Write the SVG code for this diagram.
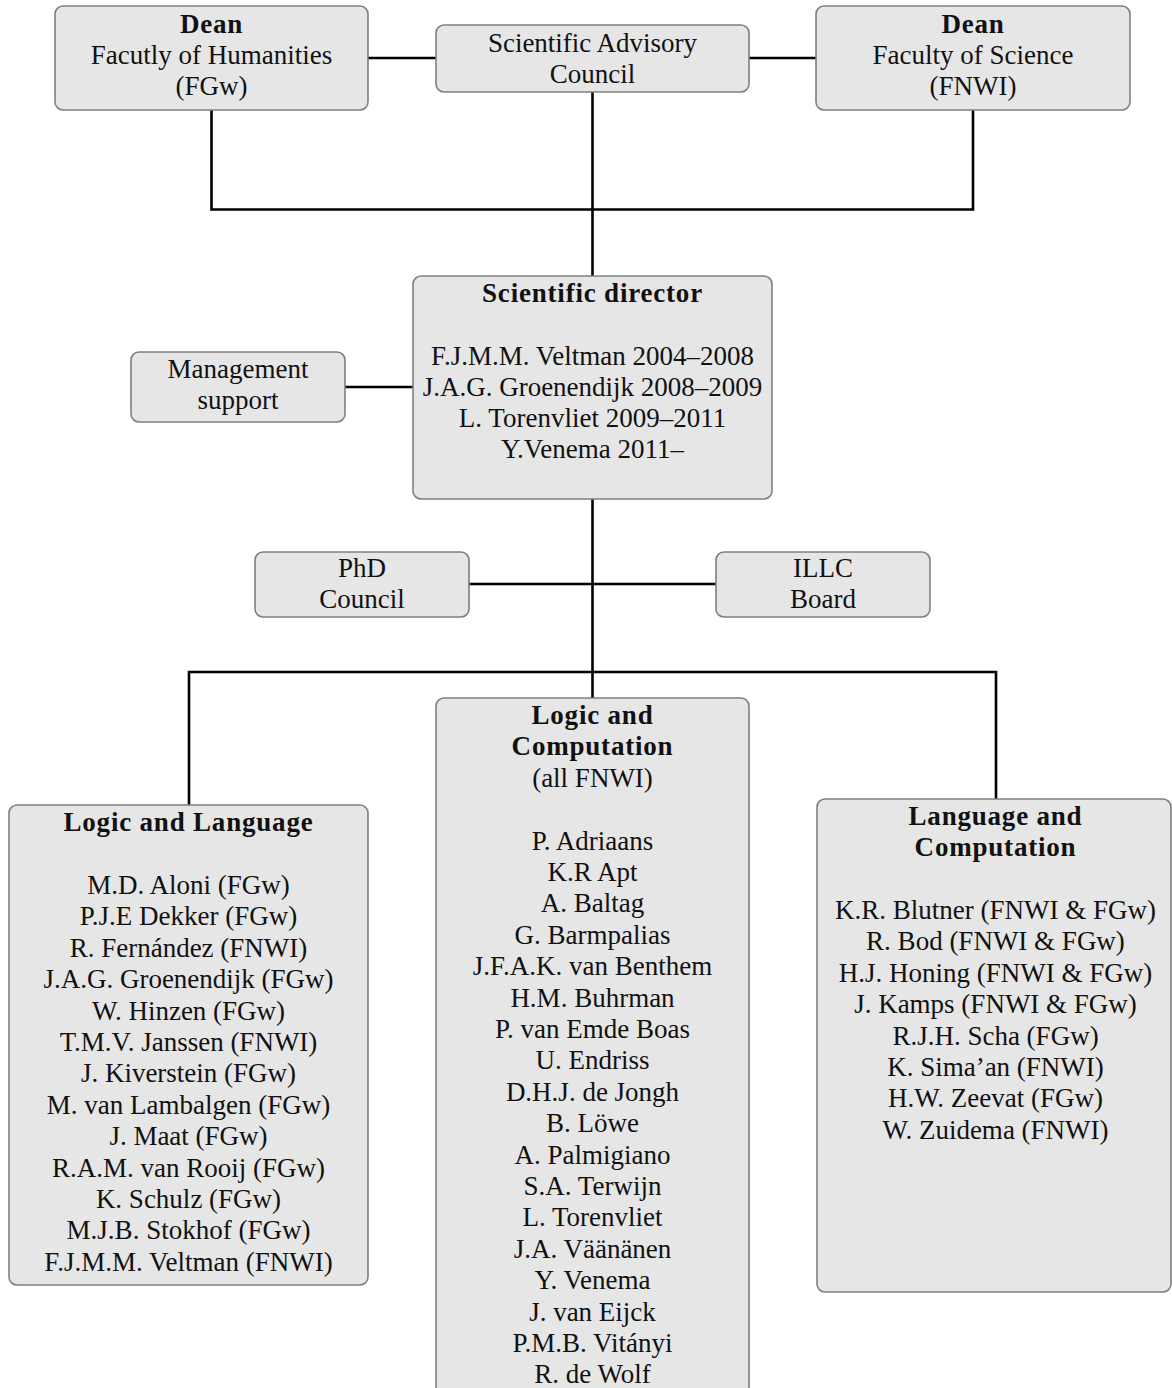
<svg xmlns="http://www.w3.org/2000/svg" width="1172" height="1388" viewBox="0 0 1172 1388">
<style>
.box{fill:#e6e6e6;stroke:#7f7f7f;stroke-width:1.6}
.t{font-family:"Liberation Serif","Times New Roman",serif;font-size:27px;fill:#111;text-anchor:middle}
.b{font-weight:bold;letter-spacing:0.8px}
.c{fill:none;stroke:#000;stroke-width:2.6}
</style>
<rect width="1172" height="1388" fill="#fff"/>
<g id="connectors">
<path class="c" d="M368 58H436M749 58H816"/>
<path class="c" d="M211.5 110V209.5H973V110"/>
<path class="c" d="M592.5 92V276"/>
<path class="c" d="M345 387H413"/>
<path class="c" d="M592.5 499V698"/>
<path class="c" d="M469 584H716"/>
<path class="c" d="M189 805V672H996V799"/>
</g>
<g id="dean-fgw">
<rect class="box" x="55" y="6" width="313" height="104" rx="8"/>
<text class="t b" x="211.5" y="33">Dean</text>
<text class="t" x="211.5" y="64">Facutly of Humanities</text>
<text class="t" x="211.5" y="95">(FGw)</text>
</g>
<g id="advisory-council">
<rect class="box" x="436" y="25" width="313" height="67" rx="8"/>
<text class="t" x="592.5" y="52">Scientific Advisory</text>
<text class="t" x="592.5" y="83">Council</text>
</g>
<g id="dean-fnwi">
<rect class="box" x="816" y="6" width="314" height="104" rx="8"/>
<text class="t b" x="973" y="33">Dean</text>
<text class="t" x="973" y="64">Faculty of Science</text>
<text class="t" x="973" y="95">(FNWI)</text>
</g>
<g id="management-support">
<rect class="box" x="131" y="352" width="214" height="70" rx="8"/>
<text class="t" x="238" y="378">Management</text>
<text class="t" x="238" y="409">support</text>
</g>
<g id="scientific-director">
<rect class="box" x="413" y="276" width="359" height="223" rx="8"/>
<text class="t b" x="592.5" y="302">Scientific director</text>
<text class="t" x="592.5" y="365">F.J.M.M. Veltman 2004–2008</text>
<text class="t" x="592.5" y="396">J.A.G. Groenendijk 2008–2009</text>
<text class="t" x="592.5" y="427">L. Torenvliet 2009–2011</text>
<text class="t" x="592.5" y="458">Y.Venema 2011–</text>
</g>
<g id="phd-council">
<rect class="box" x="255" y="552" width="214" height="65" rx="8"/>
<text class="t" x="362" y="577">PhD</text>
<text class="t" x="362" y="608">Council</text>
</g>
<g id="illc-board">
<rect class="box" x="716" y="552" width="214" height="65" rx="8"/>
<text class="t" x="823" y="577">ILLC</text>
<text class="t" x="823" y="608">Board</text>
</g>
<g id="logic-language">
<rect class="box" x="9" y="805" width="359" height="480" rx="8"/>
<text class="t b" x="188.5" y="831">Logic and Language</text>
<text class="t" x="188.5" y="894">M.D. Aloni (FGw)</text>
<text class="t" x="188.5" y="925.4">P.J.E Dekker (FGw)</text>
<text class="t" x="188.5" y="956.8">R. Fernández (FNWI)</text>
<text class="t" x="188.5" y="988.2">J.A.G. Groenendijk (FGw)</text>
<text class="t" x="188.5" y="1019.6">W. Hinzen (FGw)</text>
<text class="t" x="188.5" y="1051">T.M.V. Janssen (FNWI)</text>
<text class="t" x="188.5" y="1082.4">J. Kiverstein (FGw)</text>
<text class="t" x="188.5" y="1113.8">M. van Lambalgen (FGw)</text>
<text class="t" x="188.5" y="1145.2">J. Maat (FGw)</text>
<text class="t" x="188.5" y="1176.6">R.A.M. van Rooij (FGw)</text>
<text class="t" x="188.5" y="1208">K. Schulz (FGw)</text>
<text class="t" x="188.5" y="1239.4">M.J.B. Stokhof (FGw)</text>
<text class="t" x="188.5" y="1270.8">F.J.M.M. Veltman (FNWI)</text>
</g>
<g id="logic-computation">
<rect class="box" x="436" y="698" width="313" height="710" rx="8"/>
<text class="t b" x="592.5" y="724">Logic and</text>
<text class="t b" x="592.5" y="755.4">Computation</text>
<text class="t" x="592.5" y="786.8">(all FNWI)</text>
<text class="t" x="592.5" y="849.6">P. Adriaans</text>
<text class="t" x="592.5" y="881">K.R Apt</text>
<text class="t" x="592.5" y="912.4">A. Baltag</text>
<text class="t" x="592.5" y="943.8">G. Barmpalias</text>
<text class="t" x="592.5" y="975.2">J.F.A.K. van Benthem</text>
<text class="t" x="592.5" y="1006.6">H.M. Buhrman</text>
<text class="t" x="592.5" y="1038">P. van Emde Boas</text>
<text class="t" x="592.5" y="1069.4">U. Endriss</text>
<text class="t" x="592.5" y="1100.8">D.H.J. de Jongh</text>
<text class="t" x="592.5" y="1132.2">B. Löwe</text>
<text class="t" x="592.5" y="1163.6">A. Palmigiano</text>
<text class="t" x="592.5" y="1195">S.A. Terwijn</text>
<text class="t" x="592.5" y="1226.4">L. Torenvliet</text>
<text class="t" x="592.5" y="1257.8">J.A. Väänänen</text>
<text class="t" x="592.5" y="1289.2">Y. Venema</text>
<text class="t" x="592.5" y="1320.6">J. van Eijck</text>
<text class="t" x="592.5" y="1352">P.M.B. Vitányi</text>
<text class="t" x="592.5" y="1383.4">R. de Wolf</text>
</g>
<g id="language-computation">
<rect class="box" x="817" y="799" width="354" height="493" rx="8"/>
<text class="t b" x="995.5" y="825">Language and</text>
<text class="t b" x="995.5" y="856.4">Computation</text>
<text class="t" x="995.5" y="919">K.R. Blutner (FNWI &amp; FGw)</text>
<text class="t" x="995.5" y="950.4">R. Bod (FNWI &amp; FGw)</text>
<text class="t" x="995.5" y="981.8">H.J. Honing (FNWI &amp; FGw)</text>
<text class="t" x="995.5" y="1013.2">J. Kamps (FNWI &amp; FGw)</text>
<text class="t" x="995.5" y="1044.6">R.J.H. Scha (FGw)</text>
<text class="t" x="995.5" y="1076">K. Sima’an (FNWI)</text>
<text class="t" x="995.5" y="1107.4">H.W. Zeevat (FGw)</text>
<text class="t" x="995.5" y="1138.8">W. Zuidema (FNWI)</text>
</g>
</svg>
